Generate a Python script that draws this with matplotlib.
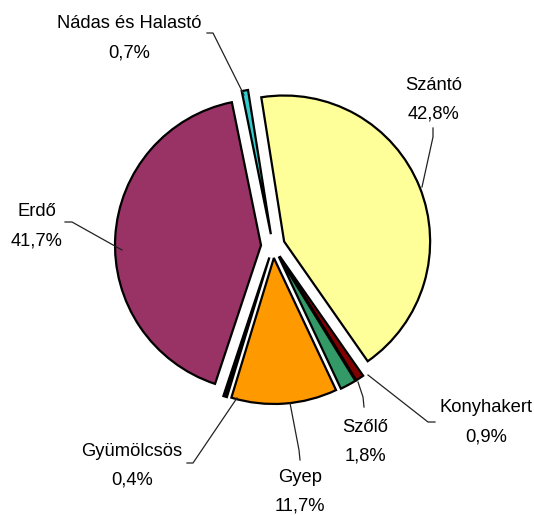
import matplotlib.pyplot as plt

# land use shares (%)
names = ["Szántó", "Konyhakert", "Szőlő", "Gyep", "Gyümölcsös", "Erdő", "Nádas és Halastó"]
shares = [42.8, 0.9, 1.8, 11.7, 0.4, 41.7, 0.7]
pct_labels = ["42,8%", "0,9%", "1,8%", "11,7%", "0,4%", "41,7%", "0,7%"]
colors = ["#FFFF99", "#800000", "#339966", "#FF9900", "#000000", "#993366", "#33CCCC"]

# label text centres (pixels, from top-left) and leader lines
label_xy = [(434, 85), (486, 408), (365, 427), (300, 477), (132, 451), (37, 212), (129, 24)]
leaders = [
    [(433, 128), (433, 137), (422, 187)],
    [(435, 422), (428, 422), (368, 375)],
    [(364, 407), (363, 397), (358, 382)],
    [(300, 460), (299, 450), (290, 403)],
    [(187, 463), (193, 463), (237, 398)],
    [(65, 222), (72, 222), (122, 250)],
    [(207, 33), (213, 33), (244, 95)],
]

W, H = 534, 515
fig = plt.figure(figsize=(W / 100, H / 100), dpi=100)
ax = fig.add_axes([0, 0, 1, 1])

# explode is in data units here (pixels), not a fraction of the radius
ax.pie(shares, colors=colors, startangle=99, counterclock=False,
       center=(273, H - 246), radius=146, explode=[12] * len(shares),
       wedgeprops=dict(edgecolor="black", linewidth=1.6), frame=True)
ax.set_xlim(0, W)
ax.set_ylim(0, H)
ax.set_aspect("equal")
ax.axis("off")

for pts in leaders:
    ax.plot([p[0] for p in pts], [H - p[1] for p in pts], color="#222222", lw=0.9)

for name, pct, (x, y) in zip(names, pct_labels, label_xy):
    ax.text(x, H - y, name, ha="center", va="center", fontsize=13.2, family="Liberation Sans")
    ax.text(x, H - y - 29, pct, ha="center", va="center", fontsize=13.2, family="Liberation Sans")

fig.savefig("out.png", dpi=100)
